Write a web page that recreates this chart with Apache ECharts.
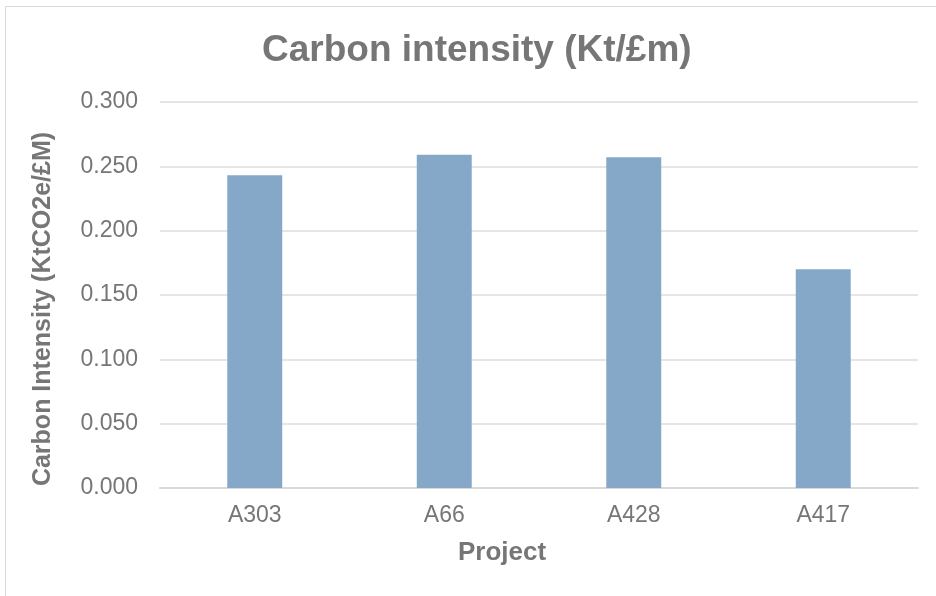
<!DOCTYPE html>
<html><head><meta charset="utf-8">
<script src="https://cdn.jsdelivr.net/npm/echarts@6/dist/echarts.min.js"></script>
<style>html,body{margin:0;padding:0;background:#fff}#c{width:936px;height:596px}</style>
</head><body><div id="c"></div>
<script>
const categories = ["A303", "A66", "A428", "A417"];
const values = [0.243, 0.259, 0.257, 0.170];
const yTicks = [0, 0.05, 0.1, 0.15, 0.2, 0.25, 0.3];

const chart = echarts.init(document.getElementById('c'), null, {renderer: 'canvas'});
const font = 'Liberation Sans, Arial, sans-serif';
chart.setOption({
  animation: false,
  backgroundColor: '#fff',
  graphic: [{type: 'rect', shape: {x: 5.5, y: 6.5, width: 960, height: 620}, style: {fill: 'none', stroke: '#d9d9d9', lineWidth: 1}}],
  title: {text: 'Carbon intensity (Kt/£m)', left: 257, top: 27,
    textStyle: {fontFamily: font, fontSize: 37, fontWeight: 'bold', color: '#767676'}},
  grid: {left: 160, right: 18, top: 102, bottom: 108},
  xAxis: {type: 'category', data: categories, name: 'Project', nameLocation: 'middle', nameGap: 52,
    nameTextStyle: {fontFamily: font, fontSize: 26, fontWeight: 'bold', color: '#767676', padding: [0, 74, 0, 0]},
    axisLine: {lineStyle: {color: '#d9d9d9', width: 2}}, axisTick: {show: false},
    axisLabel: {fontFamily: font, fontSize: 23, color: '#767676', margin: 16}},
  yAxis: {type: 'value', min: yTicks[0], max: yTicks[yTicks.length-1], interval: 0.05,
    name: 'Carbon Intensity (KtCO2e/£M)', nameLocation: 'middle', nameGap: 104,
    nameTextStyle: {fontFamily: font, fontSize: 25, fontWeight: 'bold', color: '#767676', padding: [0, 28, 0, 0]},
    axisLine: {show: false}, axisTick: {show: false},
    axisLabel: {fontFamily: font, fontSize: 23, color: '#767676', margin: 22, formatter: v => v.toFixed(3)},
    splitLine: {lineStyle: {color: '#e5e5e5', width: 2}}},
  series: [{type: 'bar', data: values, barWidth: '29%', itemStyle: {color: '#85a8c9'}}]
});
</script></body></html>
